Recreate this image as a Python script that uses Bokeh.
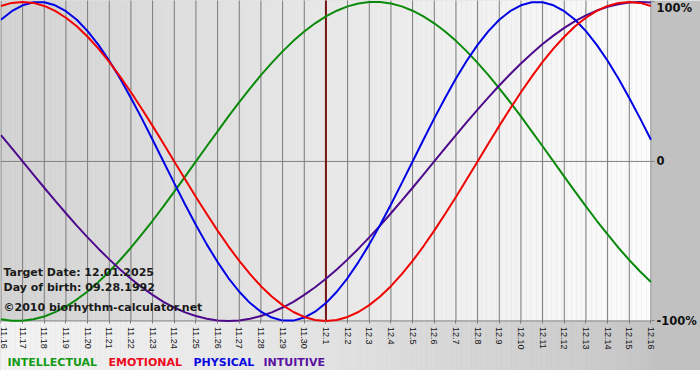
import math
from bokeh.plotting import figure
from bokeh.models import Range1d, FixedTicker, Label
from bokeh.embed import file_html
from bokeh.resources import INLINE

# ---- data ----
dates = ["11.16", "11.17", "11.18", "11.19", "11.20", "11.21", "11.22", "11.23",
         "11.24", "11.25", "11.26", "11.27", "11.28", "11.29", "11.30", "12.1",
         "12.2", "12.3", "12.4", "12.5", "12.6", "12.7", "12.8", "12.9", "12.10",
         "12.11", "12.12", "12.13", "12.14", "12.15", "12.16"]

# values read every half day, from 11.16 to 12.16
physical = [0.888, 0.942, 0.979, 0.998, 0.998, 0.979, 0.942, 0.888, 0.817, 0.731,
            0.631, 0.520, 0.398, 0.270, 0.136, 0.0, -0.136, -0.270, -0.398, -0.520,
            -0.631, -0.731, -0.817, -0.888, -0.942, -0.979, -0.998, -0.998, -0.979, -0.942,
            -0.888, -0.817, -0.731, -0.631, -0.520, -0.398, -0.270, -0.136, 0.0, 0.136,
            0.270, 0.398, 0.520, 0.631, 0.731, 0.817, 0.888, 0.942, 0.979, 0.998,
            0.998, 0.979, 0.942, 0.888, 0.817, 0.731, 0.631, 0.520, 0.398, 0.270, 0.136]

emotional = [0.975, 0.994, 1.0, 0.994, 0.975, 0.944, 0.901, 0.847, 0.782, 0.707,
             0.624, 0.532, 0.434, 0.330, 0.223, 0.112, 0.0, -0.112, -0.223, -0.330,
             -0.434, -0.532, -0.624, -0.707, -0.782, -0.847, -0.901, -0.944, -0.975, -0.994,
             -1.0, -0.994, -0.975, -0.944, -0.901, -0.847, -0.782, -0.707, -0.624, -0.532,
             -0.434, -0.330, -0.223, -0.112, 0.0, 0.112, 0.223, 0.330, 0.434, 0.532,
             0.624, 0.707, 0.782, 0.847, 0.901, 0.944, 0.975, 0.994, 1.0, 0.994, 0.975]

intellectual = [-0.990, -0.999, -0.999, -0.990, -0.972, -0.945, -0.910, -0.866, -0.815, -0.756,
                -0.690, -0.618, -0.541, -0.458, -0.372, -0.282, -0.189, -0.095, 0.0, 0.095,
                0.189, 0.282, 0.372, 0.458, 0.541, 0.618, 0.690, 0.756, 0.815, 0.866,
                0.910, 0.945, 0.972, 0.990, 0.999, 0.999, 0.990, 0.972, 0.945, 0.910,
                0.866, 0.815, 0.756, 0.690, 0.618, 0.541, 0.458, 0.372, 0.282, 0.189,
                0.095, 0.0, -0.095, -0.189, -0.282, -0.372, -0.458, -0.541, -0.618, -0.690, -0.756]

intuitive = [0.165, 0.083, 0.0, -0.083, -0.165, -0.246, -0.325, -0.402, -0.476, -0.547,
             -0.614, -0.677, -0.736, -0.789, -0.837, -0.880, -0.916, -0.946, -0.969, -0.986,
             -0.997, -1.0, -0.997, -0.986, -0.969, -0.946, -0.916, -0.880, -0.837, -0.789,
             -0.736, -0.677, -0.614, -0.547, -0.476, -0.402, -0.325, -0.246, -0.165, -0.083,
             0.0, 0.083, 0.165, 0.246, 0.325, 0.402, 0.476, 0.547, 0.614, 0.677,
             0.736, 0.789, 0.837, 0.880, 0.916, 0.946, 0.969, 0.986, 0.997, 1.0, 0.997]

target_day = "12.1"
y_ticks = [-1, 0, 1]
y_tick_labels = ["-100%", "0", "100%"]
series_names = ["INTELLECTUAL", "EMOTIONAL", "PHYSICAL", "INTUITIVE"]
info_lines = ["Target Date: 12.01.2025", "Day of birth: 09.28.1992",
              "\u00a92010 biorhythm-calculator.net"]

# ---- styling ----
colors = {"INTELLECTUAL": "#0a8a0a", "EMOTIONAL": "#f00000",
          "PHYSICAL": "#0000e6", "INTUITIVE": "#4e0a8c"}
legend_colors = {"INTELLECTUAL": "#159a15", "EMOTIONAL": "#ee0a1e",
                 "PHYSICAL": "#0a0ae0", "INTUITIVE": "#5a12a0"}
legend_x = {"INTELLECTUAL": 7, "EMOTIONAL": 108, "PHYSICAL": 193, "INTUITIVE": 263}
info_y = [98, 83, 63]
legend_y = 8

W, H = 700, 370
day_px = 650 / 30.0
px_per_unit = 159.5
x_start = -0.02
x_end = x_start + W / day_px
x_plot_end = x_start + 651 / day_px
y_top = 1.009
y_bottom = y_top - H / px_per_unit
y_floor = -1.0
xs = list(range(len(dates)))
t = [i * 0.5 for i in range(len(physical))]

p = figure(width=W, height=H, output_backend="svg", toolbar_location=None,
           x_range=Range1d(x_start, x_end), y_range=Range1d(y_bottom, y_top),
           y_axis_location="right",
           min_border_left=0, min_border_top=0, min_border_right=0, min_border_bottom=0)
p.border_fill_color = None
p.background_fill_color = "#c1c1c1"
p.outline_line_color = None


def lerp_stops(stops, f):
    for (f0, c0), (f1, c1) in zip(stops[:-1], stops[1:]):
        if f0 <= f <= f1:
            return c0 + (c1 - c0) * (f - f0) / (f1 - f0)
    return stops[-1][1]


plot_stops = [(0.0, 0xd3), (1.0, 0xfc)]
band_stops = [(0.0, 0xf3), (0.46, 0xe4), (0.92, 0xcb), (1.0, 0xc4)]

n = 130
lefts, rights, tops, bottoms, fills = [], [], [], [], []
for i in range(n):
    a = x_start + (x_plot_end - x_start) * i / n
    b = x_start + (x_plot_end - x_start) * (i + 1) / n
    f = (i + 0.5) / n
    c1 = int(round(lerp_stops(plot_stops, f)))
    c2 = int(round(lerp_stops(band_stops, f)))
    lefts += [a, a]; rights += [b + (0.01 if i < n - 1 else 0)] * 2
    bottoms += [y_floor, y_bottom - 1]; tops += [y_top + 1, y_floor]
    fills += ["#%02x%02x%02x" % (c1, c1, c1), "#%02x%02x%02x" % (c2, c2, c2)]
p.quad(left=lefts, right=rights, bottom=bottoms, top=tops, fill_color=fills,
       line_color=None, level="image")

# grid (drawn only over the chart area)
p.xgrid.visible = False
p.ygrid.visible = False
p.segment(x0=xs, y0=[y_floor] * len(xs), x1=xs, y1=[y_top + 1] * len(xs),
          line_color="#7a7a7a", line_width=1, level="underlay")
p.segment(x0=[x_start, x_start], y0=[0, y_floor], x1=[x_plot_end, x_plot_end],
          y1=[0, y_floor], line_color="#808080", line_width=1, level="underlay")

# target date
ti = dates.index(target_day)
p.segment(x0=[ti], y0=[y_floor], x1=[ti], y1=[y_top + 1],
          line_color="#7a1414", line_width=2)

# curves
series = {"INTELLECTUAL": intellectual, "INTUITIVE": intuitive,
          "PHYSICAL": physical, "EMOTIONAL": emotional}
for name in ["INTELLECTUAL", "INTUITIVE", "PHYSICAL", "EMOTIONAL"]:
    p.line(t, series[name], line_color=colors[name], line_width=2)

# x axis, fixed at the bottom of the chart area
xa = p.xaxis[0]
xa.fixed_location = y_floor
xa.ticker = FixedTicker(ticks=xs)
xa.major_label_overrides = {i: d for i, d in enumerate(dates)}
xa.major_label_orientation = -math.pi / 2
xa.axis_line_color = None
xa.major_tick_line_color = "#7a7a7a"
xa.major_tick_out = 3
xa.major_tick_in = 0
xa.minor_tick_line_color = None
xa.major_label_standoff = 3
xa.major_label_text_font = "Liberation Sans"
xa.major_label_text_font_size = "9px"
xa.major_label_text_color = "#111111"

# right axis, fixed at the right edge of the chart area
ya = p.yaxis[0]
ya.fixed_location = x_plot_end
ya.ticker = FixedTicker(ticks=y_ticks)
ya.major_label_overrides = dict(zip(y_ticks, y_tick_labels))
ya.axis_line_color = None
ya.major_tick_line_color = "#808080"
ya.major_tick_out = 3
ya.major_tick_in = 0
ya.minor_tick_line_color = None
ya.major_label_standoff = 2
ya.major_label_text_font = "DejaVu Sans"
ya.major_label_text_font_style = "bold"
ya.major_label_text_font_size = "11.5px"
ya.major_label_text_color = "#111111"

# info texts (screen units relative to the plot frame)
for txt, yy in zip(info_lines, info_y):
    p.add_layout(Label(x=3, y=yy, x_units="screen", y_units="screen", text=txt,
                       text_font="DejaVu Sans", text_font_style="bold",
                       text_font_size="11px", text_color="#1a1a1a",
                       text_baseline="middle"))

# legend words
for name in series_names:
    p.add_layout(Label(x=legend_x[name], y=legend_y, x_units="screen", y_units="screen",
                       text=name, text_font="DejaVu Sans", text_font_style="bold",
                       text_font_size="11px", text_color=legend_colors[name],
                       text_baseline="middle"))

open("out.html", "w").write(file_html(p, INLINE))
